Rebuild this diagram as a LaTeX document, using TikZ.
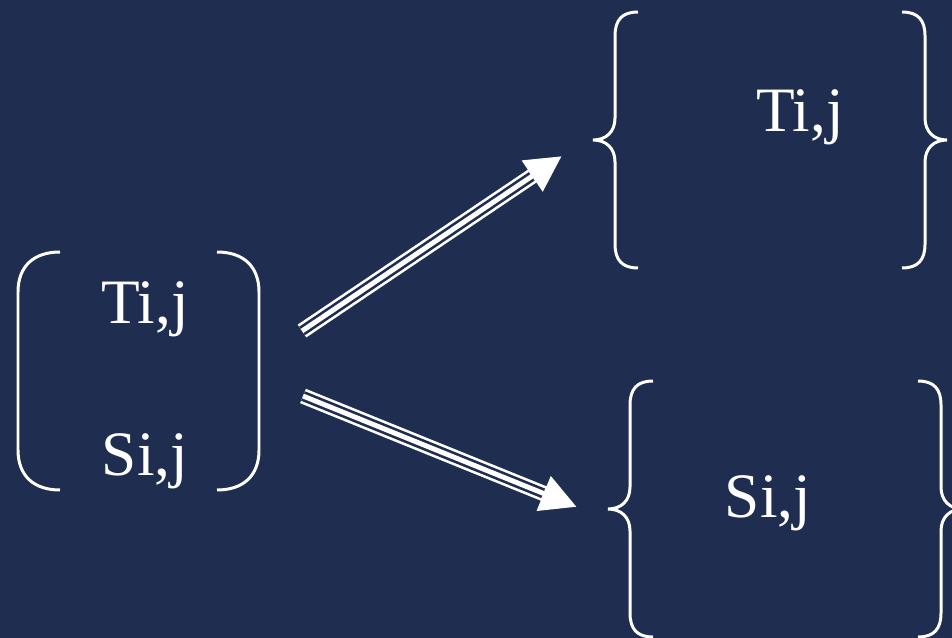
\documentclass[tikz,border=0pt]{standalone}
\usepackage{fontspec}
\setmainfont{Liberation Serif}
\usetikzlibrary{arrows.meta}
\definecolor{slate}{RGB}{31,45,80}
\tikzset{
  lbl/.style={
    text=white,
    font=\fontsize{36}{40}\selectfont,
    anchor=base,
    inner sep=0pt
  },
  brk/.style={
    draw=white,
    line width=1.7pt
  },
  triple/.style={
    draw=white,
    line width=8.8pt,
    -{Triangle[length=0.72cm,width=0.7cm]},
    postaction={draw=slate, line width=5.8pt, arrows=-, shorten >=0.73cm},
    postaction={draw=white, line width=2.8pt, arrows=-, shorten >=0.72cm}
  },
  pics/paren/.style={code={
    \draw[brk] (0,0) .. controls (-26,0) and (-42,14) .. (-42,40)
      -- (-42,198) .. controls (-42,224) and (-26,238) .. (0,238);
  }},
  pics/curly/.style={code={
    \draw[brk] (0,0) .. controls (-16,0) and (-23,8) .. (-23,24)
      -- (-23,106) .. controls (-23,120) and (-32,128) .. (-45,128)
      .. controls (-32,128) and (-23,136) .. (-23,150)
      -- (-23,232) .. controls (-23,248) and (-16,256) .. (0,256);
  }}
}
\begin{document}
\begin{tikzpicture}[x=0.02cm, y=-0.02cm]
  \fill[slate] (0,0) rectangle (952,638);
  \useasboundingbox (0,0) rectangle (952,638);

  % source pair
  \pic at (60,252) {paren};
  \pic[xscale=-1] at (217,252) {paren};
  \node[lbl] (lt) at (145,323) {Ti,j};
  \node[lbl] (ls) at (145,475) {Si,j};

  % targets
  \pic at (638,12) {curly};
  \pic[xscale=-1] at (902,12) {curly};
  \node[lbl] (rt) at (800,132) {Ti,j};
  \pic at (653,381) {curly};
  \pic[xscale=-1] at (918,381) {curly};
  \node[lbl] (rs) at (768,517) {Si,j};

  \coordinate (up0) at (302,331);
  \coordinate (up1) at (562,156);
  \coordinate (dn0) at (303,396);
  \coordinate (dn1) at (577,507);
  \draw[triple] (up0) -- (up1);
  \draw[triple] (dn0) -- (dn1);
\end{tikzpicture}
\end{document}
